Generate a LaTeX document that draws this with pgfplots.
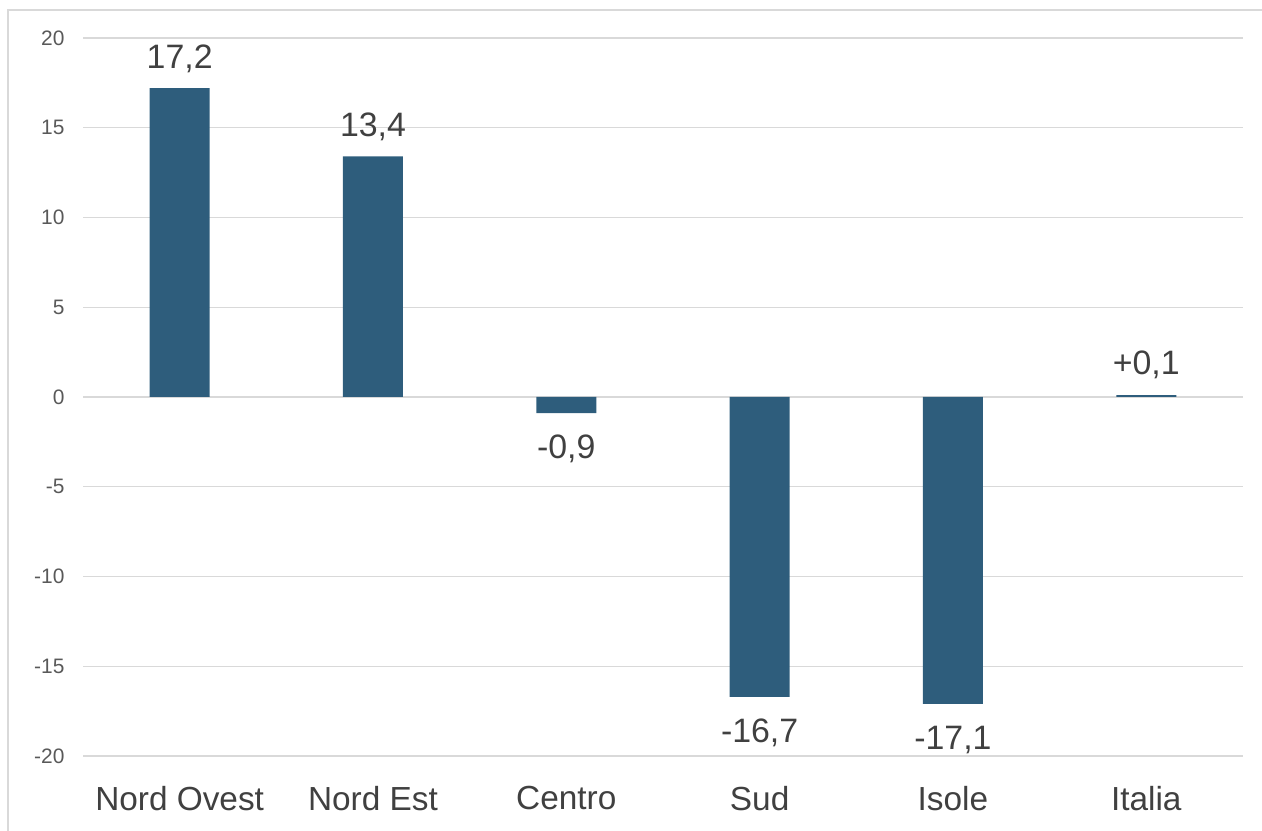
\documentclass[border=0pt]{standalone}
\usepackage{pgfplots}
\pgfplotsset{compat=1.18}
\usepackage{fontspec}
\setmainfont{Liberation Sans}
\definecolor{barc}{HTML}{2E5D7C}
\definecolor{gridc}{HTML}{D9D9D9}
\definecolor{tickc}{HTML}{595959}
\definecolor{txtc}{HTML}{404040}
\begin{document}
\begin{tikzpicture}[x=1bp,y=1bp]
\useasboundingbox (0,0) rectangle (1262,831);
\draw[gridc, line width=1.5bp] (8,-20) -- (8,821) -- (1300,821);
\begin{axis}[
  at={(83bp,75bp)}, anchor=south west,
  scale only axis, width=1160bp, height=718bp,
  xmin=-0.5, xmax=5.5, ymin=-20, ymax=20,
  axis line style={draw=none},
  ymajorgrids, grid style={gridc, line width=1.3bp},
  ytick={-20,-15,...,20},
  yticklabels={-20,-15,-10,-5,0,5,10,15,20},
  yticklabel style={font=\fontsize{21}{24}\selectfont, text=tickc, xshift=-15bp},
  xtick={0,...,5},
  xticklabels={Nord Ovest,Nord Est,Centro,Sud,Isole,Italia},
  xticklabel style={font=\fontsize{33.5}{38}\selectfont, text=txtc, yshift=-27bp},
  major tick length=0pt, tick style={draw=none},
  ybar, bar width=60bp, bar shift=0pt,
  point meta=explicit symbolic,
  clip=false,
]
\addplot[fill=barc, draw=none, nodes near coords,
  every node near coord/.style={font=\fontsize{34}{38}\selectfont, text=txtc, inner ysep=20bp, text depth=0pt, anchor=south}]
  table[meta=label] {
x y label
0 17.2 17,2
1 13.4 13,4
5 0.1 +0,1
};
\addplot[fill=barc, draw=none, nodes near coords,
  every node near coord/.style={font=\fontsize{34}{38}\selectfont, text=txtc, inner ysep=22bp, text depth=0pt, anchor=north}]
  table[meta=label] {
x y label
2 -0.9 -0,9
3 -16.7 -16,7
4 -17.1 -17,1
};
\end{axis}
\end{tikzpicture}
\end{document}
